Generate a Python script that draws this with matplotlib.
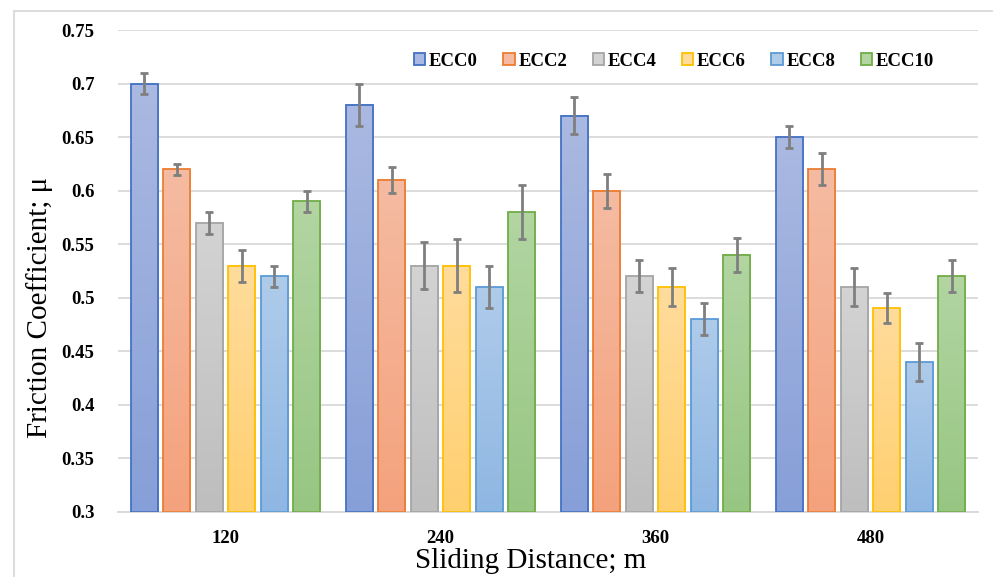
import numpy as np
import matplotlib.pyplot as plt
from matplotlib.patches import Patch, Rectangle
from matplotlib.colors import LinearSegmentedColormap

plt.rcParams['font.family'] = ['Liberation Serif', 'DejaVu Serif']

distances = ["120", "240", "360", "480"]
series = ["ECC0", "ECC2", "ECC4", "ECC6", "ECC8", "ECC10"]

ecc0 = [0.70, 0.68, 0.67, 0.65]
ecc2 = [0.62, 0.61, 0.60, 0.62]
ecc4 = [0.57, 0.53, 0.52, 0.51]
ecc6 = [0.53, 0.53, 0.51, 0.49]
ecc8 = [0.52, 0.51, 0.48, 0.44]
ecc10 = [0.59, 0.58, 0.54, 0.52]

err0 = [0.010, 0.020, 0.017, 0.010]
err2 = [0.005, 0.012, 0.016, 0.015]
err4 = [0.010, 0.022, 0.015, 0.018]
err6 = [0.015, 0.025, 0.018, 0.014]
err8 = [0.010, 0.020, 0.015, 0.018]
err10 = [0.010, 0.025, 0.016, 0.015]

values = [ecc0, ecc2, ecc4, ecc6, ecc8, ecc10]
errors = [err0, err2, err4, err6, err8, err10]

# edge colour, top fill, bottom fill
edges = ["#4472C4", "#ED7D31", "#A5A5A5", "#FFC000", "#5B9BD5", "#70AD47"]
tops = ["#AAB9E1", "#F5BBA2", "#D3D3D3", "#FFDC9C", "#AFCBEA", "#B2D5A2"]
bottoms = ["#879FD8", "#F4A27D", "#BEBEBE", "#FFD070", "#8FB7E3", "#97C683"]

ymin, ymax = 0.3, 0.75

fig = plt.figure(figsize=(9.93, 5.77), dpi=100)
ax = fig.add_axes([118 / 993, 1 - 512 / 577, 860 / 993, 482 / 577])

x = np.arange(len(distances))
step = 0.1512
width = 0.1256
grad = np.linspace(1, 0, 64).reshape(-1, 1)

for i, name in enumerate(series):
    pos = x + (i - 2.5) * step
    cmap = LinearSegmentedColormap.from_list(name, [bottoms[i], tops[i]])
    for j in range(len(distances)):
        ax.imshow(grad, cmap=cmap, aspect='auto', origin='upper',
                  extent=(pos[j] - width / 2, pos[j] + width / 2, ymin, values[i][j]),
                  zorder=2)
    ax.bar(pos, np.array(values[i]) - ymin, width, bottom=ymin, fill=False,
           edgecolor=edges[i], linewidth=1.3, zorder=3)
    ax.errorbar(pos, values[i], yerr=errors[i], fmt='none', ecolor="#7F7F7F",
                elinewidth=2, capsize=3, capthick=2, zorder=4)

ax.set_xlim(-0.5, 3.5)
ax.set_ylim(ymin, ymax)
ax.set_yticks(np.arange(0.3, 0.751, 0.05))
ax.set_yticklabels(["0.3", "0.35", "0.4", "0.45", "0.5", "0.55", "0.6", "0.65", "0.7", "0.75"])
ax.set_xticks(x)
ax.set_xticklabels(distances)
for lab in ax.get_xticklabels() + ax.get_yticklabels():
    lab.set_fontweight('bold')
    lab.set_fontsize(13.5)
ax.tick_params(axis='both', length=0)
ax.tick_params(axis='y', pad=17)
ax.tick_params(axis='x', pad=13)

ax.grid(axis='y', color="#D9D9D9", linewidth=1.3, zorder=0)
ax.set_axisbelow(True)
for s in ["top", "right", "left"]:
    ax.spines[s].set_visible(False)
ax.spines["bottom"].set_color("#D9D9D9")
ax.spines["bottom"].set_linewidth(1.3)

ax.set_xlabel("Sliding Distance; m", fontsize=21)
ax.xaxis.set_label_coords((531 - 118) / 860, -0.075)
ax.set_ylabel("Friction Coefficient; μ", fontsize=21)
ax.yaxis.set_label_coords((53 - 118) / 860, (512 - 307) / 482)

handles = [Patch(facecolor=tops[i], edgecolor=edges[i], linewidth=1.3) for i in range(len(series))]
leg = fig.legend(handles, series, loc='center left', bbox_to_anchor=(414 / 993, 1 - 61 / 577),
                 ncol=6, frameon=False, handlelength=0.6, handleheight=0.6,
                 handletextpad=0.2, columnspacing=1.36, borderpad=0, borderaxespad=0,
                 prop={'weight': 'bold', 'size': 13.5})

fig.patches.append(Rectangle((14 / 993, -0.05), 1.1, 1 - 11 / 577 + 0.05,
                             transform=fig.transFigure, fill=False,
                             edgecolor="#D9D9D9", linewidth=1.3))

fig.savefig("out.png", dpi=100)
